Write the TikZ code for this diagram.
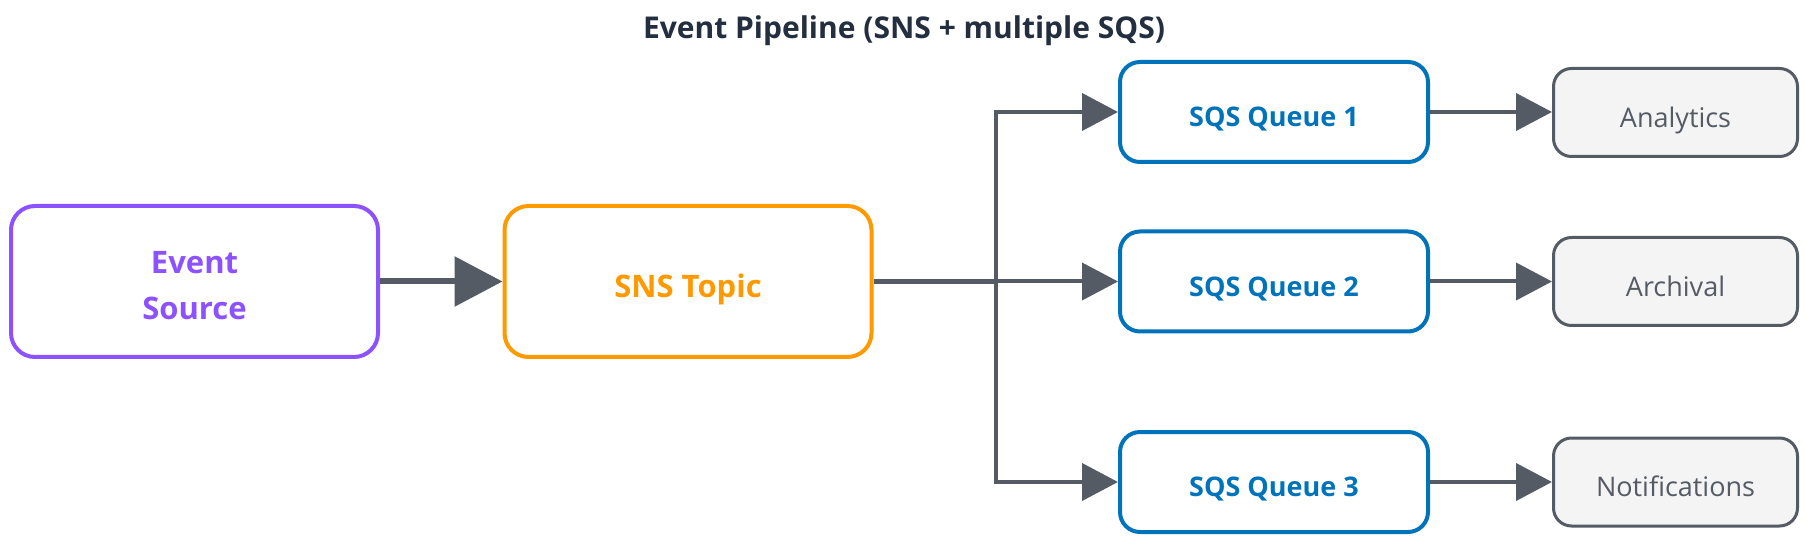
\documentclass[tikz,border=0pt]{standalone}
\usepackage{fontspec}
\setmainfont{Open Sans}
\usetikzlibrary{arrows.meta}
\definecolor{evpurple}{HTML}{8C52FF}
\definecolor{snsorange}{HTML}{FF9900}
\definecolor{sqsblue}{HTML}{0073BB}
\definecolor{awsgray}{HTML}{545B64}
\definecolor{destfill}{HTML}{F4F4F4}
\definecolor{titlecol}{HTML}{232F3E}
\begin{document}
\begin{tikzpicture}[x=1pt,y=-1pt,
  bigbox/.style={draw, line width=4pt, rounded corners=24pt, fill=white,
    minimum width=367pt, minimum height=151pt, align=center,
    font=\fontsize{31}{46}\selectfont\bfseries},
  qbox/.style={draw=sqsblue, text=sqsblue, line width=4pt, rounded corners=20pt, fill=white,
    minimum width=308pt, minimum height=100pt, text height=29.5pt, text depth=0pt,
    font=\fontsize{27}{31}\selectfont\bfseries},
  dbox/.style={draw=awsgray, text=awsgray, fill=destfill, line width=3pt, rounded corners=18pt,
    minimum width=244pt, minimum height=88pt, text height=29.5pt, text depth=0pt,
    font=\fontsize{27}{31}\selectfont},
  bigarrow/.style={draw=awsgray, line width=6pt, -{Triangle[length=48pt,width=49pt]}},
  smallarrow/.style={draw=awsgray, line width=4pt, -{Triangle[length=36pt,width=37pt]}},
]
\useasboundingbox (0,0) rectangle (1808,545);
\fill[white] (0,0) rectangle (1808,545);

\node[text=titlecol, text height=21.4pt, text depth=0pt, inner sep=0pt,
  font=\fontsize{30}{34}\selectfont\bfseries] (title) at (904,28) {Event Pipeline (SNS + multiple SQS)};

\node[bigbox, draw=evpurple, text=evpurple, text height=76pt, text depth=0pt] (es) at (194.5,281.5) {Event\\Source};
\node[bigbox, draw=snsorange, text=snsorange, text height=32pt, text depth=0pt] (sns) at (688,281.5) {SNS Topic};

\node[qbox] (q1) at (1274,112) {SQS Queue 1};
\node[qbox] (q2) at (1274,281.5) {SQS Queue 2};
\node[qbox] (q3) at (1274,482) {SQS Queue 3};

\node[dbox] (d1) at (1675.5,112.5) {Analytics};
\node[dbox] (d2) at (1675.5,281.5) {Archival};
\node[dbox] (d3) at (1675.5,482) {Notifications};

\coordinate (bus) at (996,281.5);

\draw[bigarrow] (es.east) -- (sns.west);
\draw[draw=awsgray, line width=5.5pt] (sns.east) -- (bus);
\draw[smallarrow] (bus) |- (q1.west);
\draw[smallarrow] (bus) -- (q2.west);
\draw[smallarrow] (bus) |- (q3.west);

\draw[smallarrow] (q1.east) -- (d1.west |- q1.east);
\draw[smallarrow] (q2.east) -- (d2.west |- q2.east);
\draw[smallarrow] (q3.east) -- (d3.west |- q3.east);
\end{tikzpicture}
\end{document}
